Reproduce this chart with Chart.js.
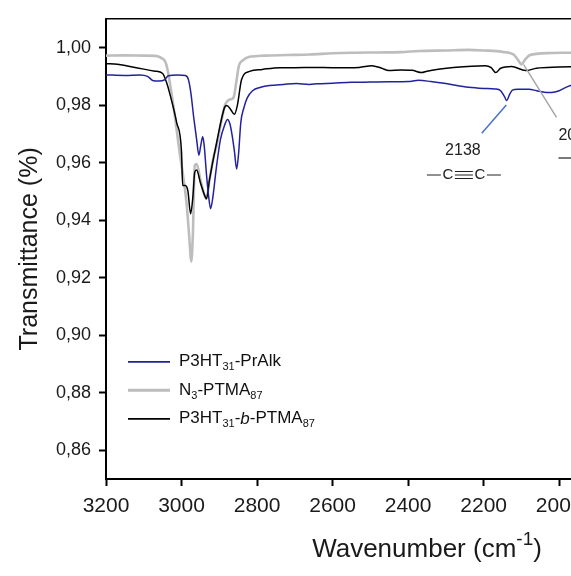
<!DOCTYPE html>
<html>
<head>
<meta charset="utf-8">
<script src="https://cdn.jsdelivr.net/npm/chart.js@4.4.0/dist/chart.umd.min.js"></script>
<style>
  html, body { margin: 0; padding: 0; background: #fff; overflow: hidden; }
  #wrap { width: 760px; height: 576px; }
</style>
</head>
<body>
<div id="wrap"><canvas id="myChart" width="760" height="576"></canvas></div>
<script>
// series names (_{..} = subscript, *..* = italic)
const seriesNames = ['P3HT_{31}-PrAlk', 'N_{3}-PTMA_{87}', 'P3HT_{31}-*b*-PTMA_{87}'];
const seriesColors = ['#22229e', '#bdbdbd', '#000000'];

const xTicks = [3200, 3000, 2800, 2600, 2400, 2200, 2000, 1800, 1600];
const yTicks = [0.86, 0.88, 0.90, 0.92, 0.94, 0.96, 0.98, 1.00];

// P3HT31-PrAlk
const prAlkWn = [3200, 3150, 3110, 3090, 3075, 3060, 3045, 3035, 3010, 2990, 2982, 2975, 2968, 2960,
  2954, 2949, 2944, 2940, 2934, 2928, 2923, 2917, 2908, 2897, 2886, 2878, 2872, 2866, 2860, 2854,
  2849, 2843, 2835, 2826, 2812, 2790, 2767, 2730, 2696, 2662, 2640, 2600, 2550, 2500, 2450, 2400,
  2372, 2340, 2300, 2240, 2200, 2170, 2155, 2145, 2139, 2132, 2124, 2110, 2080, 2060, 2040, 2020,
  2000, 1985, 1970, 1955];
const prAlkT = [0.9905, 0.9903, 0.9905, 0.9900, 0.9885, 0.9884, 0.9888, 0.9902, 0.9905, 0.9903, 0.9890,
  0.9840, 0.9760, 0.9680, 0.9626, 0.9660, 0.9690, 0.9660, 0.9560, 0.9480, 0.9440, 0.9480, 0.9580,
  0.9680, 0.9730, 0.9750, 0.9735, 0.9695, 0.9640, 0.9578, 0.9630, 0.9740, 0.9790, 0.9825, 0.9850,
  0.9862, 0.9868, 0.9872, 0.9875, 0.9872, 0.9874, 0.9876, 0.9879, 0.9880, 0.9881, 0.9882, 0.9886,
  0.9882, 0.9875, 0.9862, 0.9858, 0.9856, 0.9850, 0.9830, 0.9816, 0.9835, 0.9852, 0.9855, 0.9855,
  0.9850, 0.9845, 0.9844, 0.9850, 0.9860, 0.9868, 0.9872];

// N3-PTMA87
const ptmaWn = [3200, 3150, 3100, 3070, 3055, 3040, 3023, 3005, 2987, 2980, 2974, 2970, 2965, 2960,
  2950, 2940, 2934, 2926, 2915, 2907, 2895, 2885, 2878, 2870, 2862, 2855, 2848, 2838, 2820, 2780,
  2720, 2660, 2600, 2550, 2480, 2420, 2370, 2300, 2240, 2200, 2150, 2120, 2108, 2100, 2092, 2080,
  2060, 2020, 1990, 1955];
const ptmaT = [0.9972, 0.9973, 0.9972, 0.9971, 0.9965, 0.9940, 0.9810, 0.9636, 0.9463, 0.9350, 0.9256,
  0.9350, 0.9590, 0.9595, 0.9540, 0.9490, 0.9474, 0.9540, 0.9620, 0.9660, 0.9740, 0.9800, 0.9815,
  0.9820, 0.9827, 0.9880, 0.9937, 0.9955, 0.9968, 0.9972, 0.9974, 0.9976, 0.9980, 0.9982, 0.9983,
  0.9984, 0.9988, 0.9990, 0.9992, 0.9990, 0.9985, 0.9975, 0.9955, 0.9941, 0.9955, 0.9972, 0.9978,
  0.9981, 0.9982, 0.9982];

// P3HT31-b-PTMA87
const blockWn = [3200, 3170, 3140, 3100, 3070, 3050, 3040, 3032, 3013, 3000, 2997, 2990, 2983, 2976,
  2970, 2965, 2960, 2950, 2940, 2934, 2926, 2907, 2886, 2880, 2870, 2860, 2852, 2841, 2820, 2786,
  2740, 2700, 2650, 2600, 2530, 2496, 2470, 2451, 2420, 2390, 2364, 2350, 2320, 2286, 2196, 2180,
  2168, 2155, 2126, 2089, 2060, 2000, 1955];
const blockT = [0.9944, 0.9942, 0.9935, 0.9925, 0.9918, 0.9910, 0.9880, 0.9844, 0.9740, 0.9636, 0.9520,
  0.9520, 0.9500, 0.9422, 0.9480, 0.9567, 0.9574, 0.9530, 0.9490, 0.9474, 0.9540, 0.9670, 0.9792,
  0.9799, 0.9785, 0.9768, 0.9800, 0.9889, 0.9917, 0.9924, 0.9930, 0.9930, 0.9931, 0.9930, 0.9931,
  0.9937, 0.9928, 0.9920, 0.9922, 0.9921, 0.9913, 0.9918, 0.9925, 0.9930, 0.9937, 0.9930, 0.9913,
  0.9928, 0.9934, 0.9920, 0.9928, 0.9932, 0.9934];

const toPoints = (wn, t) => wn.map((w, i) => ({ x: w, y: t[i] }));

const FONT = 'Liberation Sans, Arial, sans-serif';

// draws text with _{sub} and *italic* parts, returns width
function drawRich(ctx, text, x, y, size) {
  const parts = text.split(/(_\{[^}]*\}|\*[^*]*\*)/).filter(p => p);
  let cx = x;
  parts.forEach(p => {
    let t = p, font = size + 'px ' + FONT, dy = 0;
    if (p.startsWith('_{')) {
      t = p.slice(2, -1); font = Math.round(size * 0.66) + 'px ' + FONT; dy = size * 0.32;
    } else if (p.startsWith('*')) {
      t = p.slice(1, -1); font = 'italic ' + size + 'px ' + FONT;
    }
    ctx.font = font;
    ctx.fillText(t, cx, y + dy);
    cx += ctx.measureText(t).width;
  });
  return cx - x;
}

const extras = {
  id: 'extras',
  afterDraw(chart) {
    const { ctx, chartArea: a, scales: { x, y } } = chart;
    ctx.save();
    // top frame line
    ctx.strokeStyle = '#000';
    ctx.lineWidth = 1.5;
    ctx.beginPath();
    ctx.moveTo(a.left, a.top);
    ctx.lineTo(a.right, a.top);
    ctx.stroke();

    // legend
    const widths = [1.8, 3, 1.8];
    seriesNames.forEach((name, i) => {
      const ly = a.top + 343 + i * 28.5;
      ctx.strokeStyle = seriesColors[i];
      ctx.lineWidth = widths[i];
      ctx.beginPath();
      ctx.moveTo(a.left + 22, ly);
      ctx.lineTo(a.left + 64, ly);
      ctx.stroke();
      ctx.fillStyle = '#111';
      ctx.textBaseline = 'middle';
      ctx.textAlign = 'left';
      drawRich(ctx, name, a.left + 73, ly, 17);
    });

    // annotation 2138 (alkyne)
    ctx.lineWidth = 1.5;
    ctx.strokeStyle = '#4a72c0';
    ctx.beginPath();
    ctx.moveTo(x.getPixelForValue(2140), y.getPixelForValue(0.9800));
    ctx.lineTo(x.getPixelForValue(2205), y.getPixelForValue(0.9702));
    ctx.stroke();
    ctx.fillStyle = '#222';
    ctx.textAlign = 'center';
    ctx.textBaseline = 'middle';
    ctx.font = '16px ' + FONT;
    const cx = x.getPixelForValue(2255);
    ctx.fillText('2138', cx, y.getPixelForValue(0.9643));
    const by = y.getPixelForValue(0.9557);
    ctx.font = '15px ' + FONT;
    ctx.fillText('C', cx - 15, by);
    ctx.fillText('C', cx + 17, by);
    ctx.strokeStyle = '#222';
    ctx.lineWidth = 1.2;
    ctx.beginPath();
    ctx.moveTo(cx - 36, by); ctx.lineTo(cx - 22, by);
    ctx.moveTo(cx + 24, by); ctx.lineTo(cx + 38, by);
    [-3.5, 0, 3.5].forEach(d => {
      ctx.moveTo(cx - 8, by + d); ctx.lineTo(cx + 10, by + d);
    });
    ctx.stroke();

    // annotation azide
    ctx.lineWidth = 1.5;
    ctx.strokeStyle = '#a8a8a8';
    ctx.beginPath();
    ctx.moveTo(x.getPixelForValue(2094), y.getPixelForValue(0.9941));
    ctx.lineTo(x.getPixelForValue(2007), y.getPixelForValue(0.9757));
    ctx.stroke();
    ctx.textAlign = 'left';
    ctx.font = '16px ' + FONT;
    const ax = x.getPixelForValue(2002);
    ctx.fillText('2095', ax, y.getPixelForValue(0.9695));
    ctx.strokeStyle = '#222';
    ctx.lineWidth = 1.2;
    ctx.beginPath();
    ctx.moveTo(ax, y.getPixelForValue(0.9616));
    ctx.lineTo(ax + 14, y.getPixelForValue(0.9616));
    ctx.stroke();
    ctx.font = '15px ' + FONT;
    ctx.fillText('N=N=N', ax + 16, y.getPixelForValue(0.9616));

    // axis titles
    ctx.fillStyle = '#1a1a1a';
    ctx.textBaseline = 'alphabetic';
    const main = 'Wavenumber (cm';
    ctx.font = '26px ' + FONT;
    const w1 = ctx.measureText(main).width;
    ctx.font = '19px ' + FONT;
    const w2 = ctx.measureText('-1').width;
    ctx.font = '26px ' + FONT;
    const w3 = ctx.measureText(')').width;
    const tx = (a.left + a.right) / 2 - (w1 + w2 + w3) / 2;
    const ty = 557;
    ctx.fillText(main, tx, ty);
    ctx.font = '19px ' + FONT;
    ctx.fillText('-1', tx + w1, ty - 12);
    ctx.font = '26px ' + FONT;
    ctx.fillText(')', tx + w1 + w2, ty);

    ctx.font = '25px ' + FONT;
    ctx.translate(30, (a.top + a.bottom) / 2);
    ctx.rotate(-Math.PI / 2);
    ctx.textAlign = 'center';
    ctx.textBaseline = 'middle';
    ctx.fillText('Transmittance (%)', 0, 0);
    ctx.restore();
  }
};

const axisGrid = {
  display: true, drawOnChartArea: false, drawTicks: true,
  tickLength: 7, tickWidth: 2, tickColor: '#000'
};

var ctx = document.getElementById('myChart').getContext('2d');
var chart = new Chart(ctx, {
  type: 'line',
  data: {
    datasets: [
      { label: 'P3HT31-PrAlk', data: toPoints(prAlkWn, prAlkT), borderColor: seriesColors[0], borderWidth: 1.5, order: 0 },
      { label: 'N3-PTMA87', data: toPoints(ptmaWn, ptmaT), borderColor: seriesColors[1], borderWidth: 2.6, order: 2 },
      { label: 'P3HT31-b-PTMA87', data: toPoints(blockWn, blockT), borderColor: seriesColors[2], borderWidth: 1.5, order: 1 }
    ]
  },
  options: {
    responsive: false,
    animation: false,
    devicePixelRatio: 1,
    layout: { padding: { left: 0, top: 16, right: 12, bottom: 0 } },
    elements: {
      point: { radius: 0 },
      line: { fill: false, cubicInterpolationMode: 'monotone' }
    },
    scales: {
      x: {
        type: 'linear', reverse: true, min: 1500, max: 3200,
        afterBuildTicks: s => { s.ticks = xTicks.map(v => ({ value: v })); },
        afterFit: s => { s.height = 97; },
        grid: axisGrid,
        border: { display: true, color: '#000', width: 2 },
        ticks: {
          color: '#1a1a1a', padding: 8, maxRotation: 0, autoSkip: false,
          font: { family: FONT, size: 21 },
          callback: v => String(v)
        }
      },
      y: {
        min: 0.85, max: 1.01,
        afterBuildTicks: s => { s.ticks = yTicks.map(v => ({ value: v })); },
        afterFit: s => { s.width = 106; },
        grid: axisGrid,
        border: { display: true, color: '#000', width: 2 },
        ticks: {
          color: '#1a1a1a', padding: 8,
          font: { family: FONT, size: 18 },
          callback: v => v.toFixed(2).replace('.', ',')
        }
      }
    },
    plugins: {
      legend: { display: false },
      tooltip: { enabled: false }
    }
  },
  plugins: [extras]
});
</script>
</body>
</html>
